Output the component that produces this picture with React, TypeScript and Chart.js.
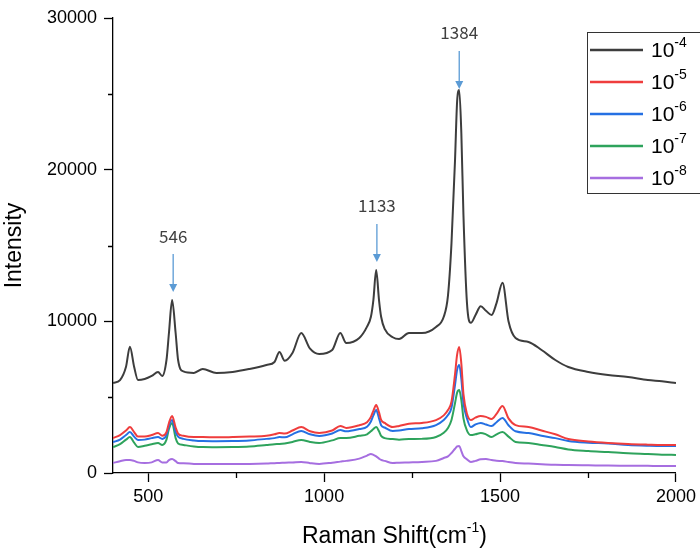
import { useEffect, useRef } from "react";
import { Chart, registerables } from "chart.js";

Chart.register(...registerables);

// Raman shift (cm-1) sample positions
const wavenumbers = [
  400, 420, 437, 448, 460, 471, 490, 510, 528, 540,
  552, 559, 568, 578, 585, 600, 630, 655, 694, 740,
  788, 836, 859, 873, 888, 910, 935, 960, 986, 1023,
  1046, 1063, 1100, 1122, 1133, 1140, 1148, 1156, 1162, 1172,
  1195, 1213, 1241, 1278, 1318, 1340, 1352, 1362, 1372, 1378,
  1384, 1390, 1396, 1406, 1417, 1430, 1445, 1460, 1476, 1490,
  1507, 1524, 1544, 1581, 1618, 1657, 1694, 1751, 1807, 1864,
  1920, 1960, 2000,
];

const conc1e4 = [
  5930, 6130, 7010, 8330, 7010, 6130, 6200, 6400, 6660, 6400,
  7450, 9230, 11400, 9230, 7450, 6700, 6600, 6860, 6590, 6660,
  6860, 7120, 7320, 7980, 7400, 7910, 9230, 8200, 7850, 8110,
  9230, 8570, 8900, 9650, 10300, 11400, 13380, 11400, 10300, 9500,
  8950, 8830, 9230, 9230, 9630, 10300, 11700, 15160, 20600, 24500,
  25250, 22400, 17000, 11200, 9900, 10400, 11000, 10700, 10420, 11200,
  12550, 10000, 8900, 8640, 8110, 7450, 6990, 6660, 6460, 6330,
  6130, 6050, 5930,
];

const conc1e5 = [
  2310, 2500, 2800, 3030, 2700, 2400, 2400, 2500, 2640, 2450,
  2700, 3300, 3760, 3000, 2600, 2450, 2370, 2370, 2350, 2370,
  2400, 2450, 2550, 2640, 2600, 2800, 3030, 2750, 2640, 2800,
  3100, 2970, 3150, 3350, 3700, 4100, 4480, 4000, 3500, 3300,
  3030, 3100, 3250, 3300, 3490, 3800, 4150, 4700, 6500, 7800,
  8310, 7200, 5200, 3900, 3490, 3650, 3760, 3700, 3560, 3900,
  4420, 3600, 3160, 3030, 2800, 2550, 2240, 2080, 1980, 1910,
  1870, 1850, 1850,
];

const conc1e6 = [
  2040, 2200, 2500, 2700, 2400, 2180, 2200, 2300, 2370, 2250,
  2500, 3100, 3490, 2700, 2400, 2250, 2150, 2110, 2100, 2110,
  2150, 2250, 2300, 2370, 2350, 2550, 2770, 2550, 2440, 2600,
  2830, 2750, 2900, 3050, 3400, 3800, 4150, 3600, 3150, 3000,
  2770, 2800, 2900, 2950, 3160, 3500, 3820, 4300, 5800, 6800,
  7120, 6200, 4600, 3600, 3030, 3200, 3300, 3200, 3100, 3350,
  3630, 3150, 2750, 2640, 2450, 2300, 2110, 2000, 1950, 1850,
  1800, 1780, 1780,
];

const conc1e7 = [
  1710, 1900, 2200, 2370, 2000, 1720, 1800, 1900, 1980, 1850,
  2200, 2900, 3300, 2300, 1950, 1850, 1750, 1710, 1700, 1710,
  1750, 1850, 1900, 1910, 1950, 2050, 2180, 2050, 1980, 2150,
  2310, 2300, 2450, 2550, 2750, 2900, 3030, 2750, 2450, 2300,
  2240, 2200, 2240, 2250, 2370, 2650, 2970, 3500, 4600, 5300,
  5470, 4800, 3600, 2800, 2500, 2550, 2640, 2550, 2370, 2550,
  2700, 2400, 2050, 1980, 1850, 1710, 1550, 1450, 1380, 1300,
  1250, 1210, 1190,
];

const conc1e8 = [
  660, 780, 860, 860, 800, 700, 660, 700, 860, 700,
  700, 850, 920, 780, 660, 640, 600, 590, 590, 600,
  600, 620, 650, 660, 680, 700, 730, 650, 600, 680,
  750, 800, 950, 1150, 1250, 1200, 1100, 950, 860, 800,
  660, 680, 700, 730, 800, 990, 1100, 1320, 1600, 1750,
  1780, 1450, 1100, 900, 730, 800, 900, 920, 850, 800,
  790, 720, 660, 620, 580, 540, 530, 510, 490, 480,
  470, 460, 460,
];

const seriesExponents = ["-4", "-5", "-6", "-7", "-8"];
const seriesColors = ["#3d3d3d", "#ef3d3d", "#2570e3", "#2ea35c", "#a66ee0"];
const seriesValues = [conc1e4, conc1e5, conc1e6, conc1e7, conc1e8];

const xTicks = [500, 1000, 1500, 2000];
const xMinorTicks = [750, 1250, 1750];
const yTicks = [0, 10000, 20000, 30000];
const yMinorTicks = [5000, 15000, 25000];

const peakLabels = ["546", "1133", "1384"];
const peakX = [571, 1150, 1384];
const peakTipY = [11930, 13910, 25320];

const FONT = "'Liberation Sans', Arial, sans-serif";

const overlayPlugin = {
  id: "overlay",
  afterDraw(chart: any) {
    const ctx = chart.ctx as CanvasRenderingContext2D;
    const xs = chart.scales.x;
    const ys = chart.scales.y;
    const a = chart.chartArea;
    ctx.save();

    // minor ticks
    ctx.strokeStyle = "#000";
    ctx.lineWidth = 1.3;
    ctx.beginPath();
    for (const v of yMinorTicks) {
      const py = Math.round(ys.getPixelForValue(v)) + 0.5;
      ctx.moveTo(a.left - 5, py);
      ctx.lineTo(a.left, py);
    }
    for (const v of xMinorTicks) {
      const px = Math.round(xs.getPixelForValue(v)) + 0.5;
      ctx.moveTo(px, a.bottom);
      ctx.lineTo(px, a.bottom + 5);
    }
    ctx.stroke();

    // peak annotations
    for (let i = 0; i < peakLabels.length; i++) {
      const px = xs.getPixelForValue(peakX[i]);
      const tip = ys.getPixelForValue(peakTipY[i]);
      ctx.strokeStyle = "#5b9bd5";
      ctx.fillStyle = "#5b9bd5";
      ctx.lineWidth = 1.3;
      ctx.beginPath();
      ctx.moveTo(px, tip - 38);
      ctx.lineTo(px, tip - 6);
      ctx.stroke();
      ctx.beginPath();
      ctx.moveTo(px - 4, tip - 8);
      ctx.lineTo(px + 4, tip - 8);
      ctx.lineTo(px, tip);
      ctx.closePath();
      ctx.fill();
      ctx.fillStyle = "#404040";
      ctx.font = "17px 'Noto Sans CJK SC', 'Noto Sans', sans-serif";
      ctx.textAlign = "center";
      ctx.textBaseline = "middle";
      ctx.fillText(peakLabels[i], px, tip - 56);
    }

    // axis titles
    ctx.fillStyle = "#000";
    ctx.textBaseline = "middle";
    const mainT = "Raman Shift(cm";
    const supT = "-1";
    ctx.font = `23px ${FONT}`;
    const w1 = ctx.measureText(mainT).width;
    const w3 = ctx.measureText(")").width;
    ctx.font = `14px ${FONT}`;
    const w2 = ctx.measureText(supT).width;
    const total = w1 + w2 + w3;
    let tx = (a.left + a.right) / 2 - total / 2;
    const ty = 537;
    ctx.textAlign = "left";
    ctx.font = `23px ${FONT}`;
    ctx.fillText(mainT, tx, ty);
    tx += w1;
    ctx.font = `14px ${FONT}`;
    ctx.fillText(supT, tx, ty - 9);
    tx += w2;
    ctx.font = `23px ${FONT}`;
    ctx.fillText(")", tx, ty);

    ctx.save();
    ctx.translate(15, (a.top + a.bottom) / 2);
    ctx.rotate(-Math.PI / 2);
    ctx.textAlign = "center";
    ctx.font = `23px ${FONT}`;
    ctx.fillText("Intensity", 0, 0);
    ctx.restore();

    // legend
    const lx = 587.5;
    const ly = 32.5;
    ctx.strokeStyle = "#333";
    ctx.lineWidth = 1;
    ctx.strokeRect(lx, ly, 130, 161);
    for (let i = 0; i < seriesExponents.length; i++) {
      const ry = 50 + i * 32;
      ctx.strokeStyle = seriesColors[i];
      ctx.lineWidth = 2.5;
      ctx.beginPath();
      ctx.moveTo(590, ry);
      ctx.lineTo(643, ry);
      ctx.stroke();
      ctx.fillStyle = "#000";
      ctx.textAlign = "left";
      ctx.textBaseline = "middle";
      ctx.font = `21px ${FONT}`;
      ctx.fillText("10", 651, ry + 1);
      const w = ctx.measureText("10").width;
      ctx.font = `14px ${FONT}`;
      ctx.fillText(seriesExponents[i], 651 + w, ry - 7);
    }
    ctx.restore();
  },
};

export default function App() {
  const ref = useRef<HTMLCanvasElement>(null);
  useEffect(() => {
    document.body.style.margin = "0";
    const datasets = seriesValues.map((vals, i) => ({
      label: "10" + seriesExponents[i],
      data: wavenumbers.map((x, j) => ({ x, y: vals[j] })),
      borderColor: seriesColors[i],
      borderWidth: 2,
      pointRadius: 0,
      fill: false,
      cubicInterpolationMode: "monotone" as const,
    }));
    const chart = new Chart(ref.current as HTMLCanvasElement, {
      type: "line",
      data: { datasets },
      options: {
        responsive: false,
        devicePixelRatio: 1,
        animation: false,
        layout: { padding: { top: 18, right: 22, left: 0, bottom: 0 } },
        plugins: { legend: { display: false }, tooltip: { enabled: false } },
        scales: {
          x: {
            type: "linear",
            min: 400,
            max: 2000,
            afterBuildTicks: (s: any) => {
              s.ticks = xTicks.map((v) => ({ value: v }));
            },
            afterFit: (s: any) => {
              s.height = 87;
            },
            ticks: {
              color: "#000",
              font: { family: FONT, size: 18 },
              padding: 4,
              maxRotation: 0,
              callback: (v: any) => String(v),
            },
            grid: { display: true, drawOnChartArea: false, drawTicks: true, tickLength: 9, tickColor: "#000", tickWidth: 1.3 },
            border: { display: true, color: "#000", width: 1.3 },
          },
          y: {
            type: "linear",
            min: 0,
            max: 30000,
            afterBuildTicks: (s: any) => {
              s.ticks = yTicks.map((v) => ({ value: v }));
            },
            afterFit: (s: any) => {
              s.width = 113;
            },
            ticks: {
              color: "#000",
              font: { family: FONT, size: 18 },
              padding: 7,
              callback: (v: any) => String(v),
            },
            grid: { display: true, drawOnChartArea: false, drawTicks: true, tickLength: 9, tickColor: "#000", tickWidth: 1.3 },
            border: { display: true, color: "#000", width: 1.3 },
          },
        },
      },
      plugins: [overlayPlugin],
    });
    return () => chart.destroy();
  }, []);
  return (
    <div style={{ position: "absolute", left: 0, top: 0, width: 700, height: 560 }}>
      <canvas ref={ref} width={700} height={560} style={{ display: "block" }} />
    </div>
  );
}
